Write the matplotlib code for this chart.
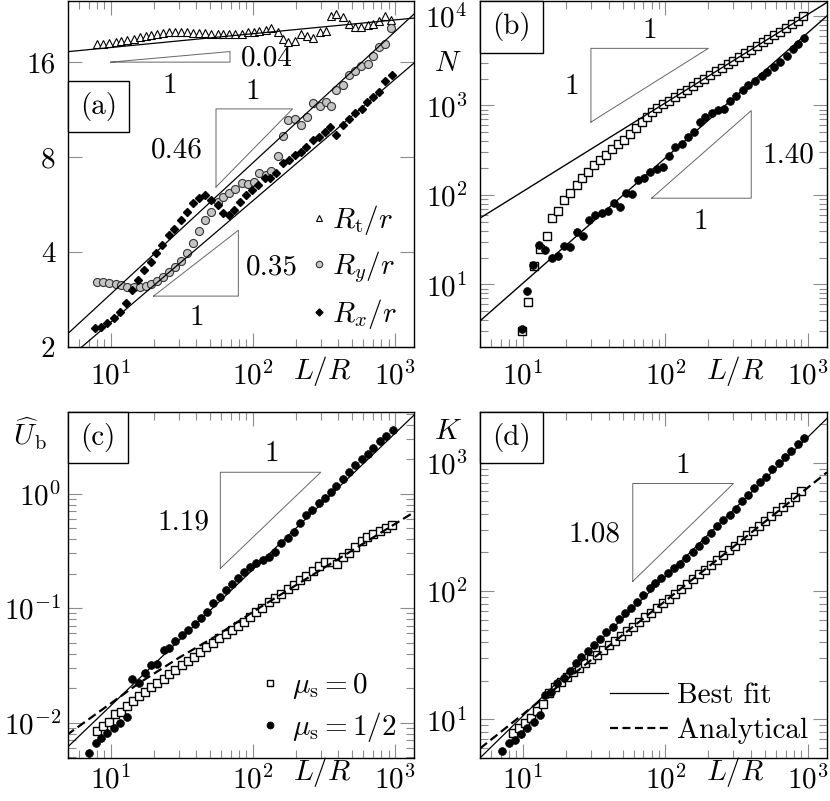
import numpy as np
import matplotlib
matplotlib.use("Agg")
import matplotlib.pyplot as plt
from matplotlib.ticker import (LogLocator, FixedLocator, FixedFormatter,
                               NullLocator, NullFormatter, LogFormatterMathtext)
from matplotlib.patches import Rectangle
from matplotlib.lines import Line2D

plt.rcParams['font.family'] = 'serif'
plt.rcParams['font.serif'] = ['cmr10']
plt.rcParams['mathtext.fontset'] = 'cm'
plt.rcParams['axes.formatter.use_mathtext'] = True
plt.rcParams['font.size'] = 21
plt.rcParams['axes.linewidth'] = 1.0

# ---- (a) radii ----
a_x = [7.96, 8.78, 9.73, 10.8, 11.8, 13.1, 14.5, 16.0, 17.7, 19.2, 21.1, 23.4, 25.8, 28.5, 31.4,
       34.4, 38.0, 41.9, 45.9, 50.7, 56.4, 61.9, 68.2, 75.2, 83.4, 91.9, 101, 111, 123, 134,
       150, 163, 178, 197, 219, 240, 266, 295, 325, 357, 387, 431, 473, 522, 575, 641, 696,
       774, 850, 937]
a_rt = [18.2, 18.3, 18.4, 18.5, 18.7, 18.8, 19.0, 19.2, 19.4, 19.5, 19.7, 19.8, 19.9, 19.9, 19.9,
        19.9, 19.8, 19.8, 19.8, 19.7, 19.7, 19.7, 19.6, 19.6, 19.7, 19.9, 20.0, 20.1, 20.3, 20.6,
        20.0, 19.0, 18.6, 18.7, 19.6, 19.3, 19.1, 20.0, 20.1, 22.4, 22.8, 22.2, 21.1, 20.7, 20.7,
        21.0, 21.2, 21.6, 22.4, 21.7]
a_ry = [3.22, 3.21, 3.18, 3.16, 3.14, 3.11, 3.09, 3.09, 3.12, 3.17, 3.24, 3.34, 3.45, 3.59, 3.75,
        3.97, 4.27, 4.66, 5.05, 5.37, 5.77, 5.99, 6.15, 6.33, 6.60, 6.58, 6.67, 7.14, 7.02, 7.22,
        8.09, 9.36, 10.5, 10.6, 10.1, 10.7, 11.9, 11.6, 12.0, 11.6, 13.1, 13.5, 14.6, 15.0, 15.5,
        15.8, 16.7, 17.9, 18.3, 20.5]
a_x_rx = [7.80, 8.59, 9.42, 10.5, 11.6, 12.7, 14.2, 15.6, 17.1, 19.1, 20.7, 23.1, 25.7, 27.9, 31.1,
          34.6, 37.6, 41.9, 46.1, 50.7, 56.4, 61.2, 68.2, 74.0, 81.2, 89.6, 98.2, 108, 121, 132,
          146, 163, 179, 197, 219, 238, 265, 292, 320, 347, 387, 431, 476, 522, 582, 631, 696,
          774, 849, 948]
a_rx = [2.29, 2.31, 2.39, 2.47, 2.59, 2.75, 3.03, 3.26, 3.51, 3.73, 3.96, 4.21, 4.53, 4.75, 5.05,
        5.37, 5.71, 5.92, 6.06, 5.84, 5.64, 5.30, 5.24, 5.43, 5.77, 6.06, 6.29, 6.52, 6.85, 6.85,
        7.10, 7.64, 7.83, 8.12, 8.32, 8.62, 9.06, 9.28, 9.62, 9.98, 9.39, 10.1, 10.6, 11.0, 11.4,
        12.0, 12.4, 12.9, 13.9, 14.6]
a_fit_pref = [16.1, 1.13, 0.988]
a_fit_exp = [0.0437, 0.416, 0.385]

# ---- (b) N ----
b_sq_x = [9.9, 10.9, 12.0, 13.2, 14.7, 16.1, 17.7, 19.5, 21.4, 23.8, 26.1, 28.7, 31.6, 34.7, 38.2,
          41.9, 46.2, 51.2, 56.4, 61.8, 68.1, 73.8, 80.0, 87.6, 96.5, 106, 117, 128, 141, 155,
          170, 187, 205, 226, 248, 273, 299, 330, 361, 398, 436, 481, 526, 580, 636, 701, 769,
          847, 927]
b_sq_y = [3.0, 6.4, 16, 25, 35, 55, 67, 88, 106, 129, 153, 179, 215, 245, 283, 324, 369, 416, 485,
          560, 652, 741, 850, 938, 1033, 1133, 1249, 1365, 1503, 1651, 1810, 1988, 2177, 2397,
          2628, 2890, 3162, 3488, 3811, 4200, 4599, 5068, 5538, 6096, 6675, 7360, 8070, 8873, 9900]
b_ci_x = [9.8, 10.7, 11.8, 13.0, 14.4, 15.9, 17.7, 19.5, 21.5, 23.8, 26.2, 29.2, 32.0, 35.7, 39.3,
          43.5, 48.0, 52.8, 58.5, 64.4, 71.0, 77.8, 86.7, 95.5, 106, 117, 130, 143, 158, 175, 189,
          211, 232, 257, 284, 313, 348, 381, 425, 473, 518, 577, 636, 709, 782, 856, 942]
b_ci_y = [3.16, 8.4, 16.7, 27.8, 24.5, 19.8, 21, 27.1, 26.2, 39, 35, 52.7, 60, 63.5, 67, 81, 74,
          106, 102, 147, 156, 181, 193, 206, 271, 344, 375, 444, 505, 652, 741, 820, 880, 918,
          1136, 1291, 1493, 1711, 1896, 2154, 2344, 2710, 3026, 3594, 4266, 4918, 5650]
b_fit_pref = [11.2, 0.411]
b_fit_exp = [0.99, 1.40]

# ---- (c) U_b ----
c_sq_x = [7.96, 8.78, 9.79, 10.7, 11.8, 13.0, 14.3, 15.8, 17.5, 19.2, 21.1, 23.6, 25.8, 28.5, 31.7,
          35.0, 38.4, 42.4, 47.1, 52.4, 57.7, 64.3, 70.9, 79.0, 86.6, 95.5, 105, 115, 129, 143,
          158, 176, 194, 213, 238, 265, 292, 320, 353, 391, 431, 476, 522, 582, 637, 703, 784,
          864, 948]
c_sq_y = [0.00848, 0.00937, 0.01004, 0.0118, 0.0124, 0.0139, 0.0155, 0.0170, 0.0186, 0.0203,
          0.0220, 0.0240, 0.0264, 0.0288, 0.0316, 0.0345, 0.0376, 0.0415, 0.0454, 0.0498,
          0.0543, 0.0593, 0.0643, 0.0700, 0.0759, 0.0839, 0.0917, 0.100, 0.112, 0.122,
          0.133, 0.146, 0.160, 0.176, 0.192, 0.211, 0.235, 0.255, 0.252, 0.242,
          0.280, 0.306, 0.340, 0.385, 0.420, 0.446, 0.476, 0.502, 0.531]
c_ci_x = [7.06, 7.83, 8.54, 9.48, 10.6, 11.6, 13.0, 14.2, 15.7, 17.3, 19.2, 21.1, 23.6, 25.8, 28.5,
          31.7, 35.0, 39.1, 42.8, 47.2, 52.4, 58.3, 64.3, 70.9, 78.6, 86.6, 95.5, 105, 117, 129,
          143, 158, 176, 194, 213, 238, 262, 290, 320, 353, 387, 431, 476, 522, 582, 641, 703,
          784, 864, 963]
c_ci_y = [0.00545, 0.00658, 0.00728, 0.00805, 0.00890, 0.00984, 0.0111, 0.0238, 0.0223, 0.0269,
          0.0318, 0.0324, 0.0430, 0.0445, 0.0515, 0.0581, 0.0643, 0.0721, 0.0813, 0.0917,
          0.110, 0.124, 0.144, 0.161, 0.182, 0.207, 0.229, 0.247, 0.263, 0.280,
          0.310, 0.367, 0.406, 0.464, 0.549, 0.649, 0.718, 0.821, 0.908, 1.04,
          1.17, 1.34, 1.55, 1.77, 2.00, 2.24, 2.53, 2.89, 3.18, 3.59]
c_fit = (0.000906, 1.19)     # best fit, mu_s = 1/2
# analytical curve for mu_s = 0
c_theory_x = [4.9, 15.8, 30.7, 53.5, 113, 1362]
c_theory_y = [0.00778, 0.0221, 0.0373, 0.0558, 0.102, 0.689]

# ---- (d) K ----
d_sq_x = [8.5, 9.37, 10.3, 11.4, 12.5, 13.8, 15.2, 16.8, 18.5, 20.4, 22.5, 24.8, 27.3, 30.1, 33.1,
          36.5, 40.2, 44.3, 48.8, 53.8, 59.3, 65.3, 72.0, 79.3, 87.4, 96.3, 106, 117, 129, 142,
          157, 173, 190, 210, 231, 255, 281, 309, 341, 376, 414, 456, 503, 554, 611, 673, 741,
          817, 900]
d_sq_y = [7.78, 8.5, 9.3, 10.3, 11.7, 13.2, 16.0, 17.8, 19.6, 21.5, 23.2, 25.2, 27.3, 29.6, 32.0,
          34.8, 37.8, 41.0, 44.6, 48.6, 52.8, 57.6, 62.5, 68.0, 74.0, 80.5, 87.5, 95.5, 104, 113,
          124, 135, 147, 160, 175, 191, 208, 226, 248, 272, 296, 323, 352, 384, 418, 456, 498,
          545, 600]
d_ci_x = [7.13, 7.98, 8.75, 9.75, 10.7, 11.9, 13.1, 14.4, 15.8, 17.4, 19.3, 21.3, 23.4, 25.7, 28.6,
          31.5, 34.9, 38.5, 42.8, 46.9, 51.8, 57.7, 63.5, 69.5, 77.5, 84.9, 93.6, 104, 115, 127,
          140, 156, 172, 188, 210, 231, 253, 282, 311, 347, 380, 418, 463, 511, 562, 623, 694,
          765, 851, 938]
d_ci_y = [5.65, 6.56, 6.89, 7.64, 8.51, 9.58, 10.8, 15.5, 16.4, 19.3, 21.1, 24.0, 27.4, 30.8, 34.4,
          38.0, 42.2, 47.8, 52.9, 60.4, 67.3, 73.6, 82.9, 93.6, 105, 115, 126, 138, 151, 163,
          181, 200, 223, 252, 284, 320, 361, 395, 437, 501, 565, 638, 705, 778, 887, 1000, 1114,
          1233, 1390, 1567]
d_fit = (0.870, 1.087)
d_theory = (1.43, 0.884)

X_LIM = (5, 1360)
x_line = np.array(X_LIM, dtype=float)
DASH = (4, 2)

fig = plt.figure(figsize=(8.3, 8.01), dpi=100)


def px_rect(l, t, r, b):
    return [l / 830, 1 - b / 801, (r - l) / 830, (b - t) / 801]


def setup(ax, top_row):
    ax.set_xscale('log')
    ax.set_xlim(*X_LIM)
    ax.xaxis.set_major_locator(FixedLocator([10, 100, 1000]))
    ax.xaxis.set_major_formatter(LogFormatterMathtext())
    ax.xaxis.set_minor_locator(LogLocator(base=10, subs=np.arange(2, 10), numticks=20))
    ax.xaxis.set_minor_formatter(NullFormatter())
    ax.tick_params(which='both', direction='in', top=True, right=True,
                   color='0.55', width=0.8)
    ax.tick_params(which='major', length=10)
    ax.tick_params(which='minor', length=6)
    ax.tick_params(axis='x', pad=10 if top_row else 5)
    ax.tick_params(axis='y', pad=9)
    yl = -0.092 if top_row else -0.064
    ax.text(0.735, yl, r'$L/R$', transform=ax.transAxes, ha='center', va='baseline')


def panel_label(ax, txt, y0, w, h):
    ax.add_patch(Rectangle((0, y0), w, h, transform=ax.transAxes, fc='white', ec='black',
                           lw=1.0, clip_on=False, zorder=6))
    ax.text(w / 2, y0 + h / 2, txt, transform=ax.transAxes, ha='center', va='center', zorder=7)


def slope_tri(ax, x0, x1, y0, k, upper):
    y1 = y0 * (x1 / x0) ** k
    if upper:
        xs, ys = [x0, x0, x1, x0], [y0, y1, y1, y0]
    else:
        xs, ys = [x0, x1, x1, x0], [y0, y0, y1, y0]
    ax.plot(xs, ys, color='0.4', lw=0.7, zorder=2)


sq_style = dict(ls='none', marker='s', ms=5.3, mfc='white', mec='black', mew=1.0)
ci_style = dict(ls='none', marker='o', ms=5.6, mfc='black', mec='black', mew=0.5)

# (a)
ax = fig.add_axes(px_rect(68, 1, 414, 347))
setup(ax, True)
ax.set_yscale('log', base=2)
ax.set_ylim(2, 25)
ax.yaxis.set_major_locator(FixedLocator([2, 4, 8, 16]))
ax.yaxis.set_major_formatter(FixedFormatter(['2', '4', '8', '16']))
ax.yaxis.set_minor_locator(NullLocator())
h_t, = ax.plot(a_x, a_rt, ls='none', marker='^', ms=5.8, mfc='white', mec='black', mew=0.8)
h_y, = ax.plot(a_x, a_ry, ls='none', marker='o', ms=5.8, mfc='#c4c4c4', mec='#333333', mew=0.8)
h_x, = ax.plot(a_x_rx, a_rx, ls='none', marker='D', ms=4.4, mfc='black', mec='black')
for A, k in zip(a_fit_pref, a_fit_exp):
    ax.plot(x_line, A * x_line ** k, color='black', lw=0.9, zorder=4)
slope_tri(ax, 10, 69, 16.0, 0.04, False)
slope_tri(ax, 55, 190, 6.43, 0.46, True)
slope_tri(ax, 20, 79, 2.90, 0.35, False)
ax.text(126, 16.5, '0.04', ha='center', va='center')
ax.text(26, 13.5, '1', ha='center', va='center')
ax.text(99, 12.9, '1', ha='center', va='center')
ax.text(29.3, 8.42, '0.46', ha='center', va='center')
ax.text(137, 3.59, '0.35', ha='center', va='center')
ax.text(40, 2.47, '1', ha='center', va='center')
ax.legend([h_t, h_y, h_x], [r'$R_\mathrm{t}/r$', r'$R_y/r$', r'$R_x/r$'],
          loc='lower right', bbox_to_anchor=(0.95, 0.045), frameon=False, borderaxespad=0,
          handlelength=0.4, handletextpad=0.25, labelspacing=0.42, borderpad=0, markerscale=0.8)
panel_label(ax, '(a)', 0.622, 0.176, 0.147)

# (b)
ax = fig.add_axes(px_rect(480, 1, 827, 347))
setup(ax, True)
ax.set_yscale('log')
ax.set_ylim(2, 14700)
ax.yaxis.set_major_locator(FixedLocator([10, 100, 1000, 10000]))
ax.yaxis.set_major_formatter(LogFormatterMathtext())
ax.yaxis.set_minor_locator(LogLocator(base=10, subs=np.arange(2, 10), numticks=20))
ax.yaxis.set_minor_formatter(NullFormatter())
ax.plot(b_sq_x, b_sq_y, **sq_style)
ax.plot(b_ci_x, b_ci_y, **ci_style)
for A, k in zip(b_fit_pref, b_fit_exp):
    ax.plot(x_line, A * x_line ** k, color='black', lw=1.0, zorder=4)
slope_tri(ax, 30, 200, 652, 1.0, True)
slope_tri(ax, 80, 400, 92, 1.40, False)
ax.text(78, 6800, '1', ha='center', va='center')
ax.text(22, 1600, '1', ha='center', va='center')
ax.text(728, 278, '1.40', ha='center', va='center')
ax.text(177, 50.5, '1', ha='center', va='center')
ax.text(-0.092, 0.818, r'$N$', transform=ax.transAxes, ha='center', va='center')
panel_label(ax, '(b)', 0.850, 0.182, 0.150)

# (c)
ax = fig.add_axes(px_rect(68, 411.7, 414, 758))
setup(ax, False)
ax.set_yscale('log')
ax.set_ylim(0.0049, 5.2)
ax.yaxis.set_major_locator(FixedLocator([0.01, 0.1, 1]))
ax.yaxis.set_major_formatter(LogFormatterMathtext())
ax.yaxis.set_minor_locator(LogLocator(base=10, subs=np.arange(2, 10), numticks=20))
ax.yaxis.set_minor_formatter(NullFormatter())
ax.tick_params(axis='y', pad=5)
h_sq, = ax.plot(c_sq_x, c_sq_y, **sq_style)
h_ci, = ax.plot(c_ci_x, c_ci_y, **ci_style)
ax.plot(x_line, c_fit[0] * x_line ** c_fit[1], color='black', lw=0.9, zorder=4)
ax.plot(c_theory_x, c_theory_y, color='black', lw=1.6, dashes=DASH, zorder=4)
slope_tri(ax, 59, 300, 0.222, 1.19, True)
ax.text(136, 2.24, '1', ha='center', va='center')
ax.text(32.4, 0.567, '1.19', ha='center', va='center')
ax.text(-0.11, 0.935, r'$\widehat{U}_\mathrm{b}$', transform=ax.transAxes,
        ha='center', va='center')
ax.legend([h_sq, h_ci], [r'$\mu_\mathrm{s}=0$', r'$\mu_\mathrm{s}=1/2$'],
          loc='lower right', bbox_to_anchor=(0.95, 0.04), frameon=False, borderaxespad=0,
          handlelength=0.5, handletextpad=0.5, labelspacing=0.3, borderpad=0, markerscale=0.9)
panel_label(ax, '(c)', 0.853, 0.173, 0.147)

# (d)
ax = fig.add_axes(px_rect(480, 411.7, 827, 758))
setup(ax, False)
ax.set_yscale('log')
ax.set_ylim(5, 2500)
ax.yaxis.set_major_locator(FixedLocator([10, 100, 1000]))
ax.yaxis.set_major_formatter(LogFormatterMathtext())
ax.yaxis.set_minor_locator(LogLocator(base=10, subs=np.arange(2, 10), numticks=20))
ax.yaxis.set_minor_formatter(NullFormatter())
ax.plot(d_sq_x, d_sq_y, **sq_style)
ax.plot(d_ci_x, d_ci_y, **ci_style)
ax.plot(x_line, d_fit[0] * x_line ** d_fit[1], color='black', lw=0.9, zorder=4)
ax.plot(x_line, d_theory[0] * x_line ** d_theory[1], color='black', lw=1.6,
        dashes=DASH, zorder=4)
slope_tri(ax, 59, 300, 119, 1.08, True)
ax.text(133, 940, '1', ha='center', va='center')
ax.text(31.8, 275, '1.08', ha='center', va='center')
ax.text(-0.092, 0.942, r'$K$', transform=ax.transAxes, ha='center', va='center')
h_fit = Line2D([], [], color='black', lw=0.9)
h_th = Line2D([], [], color='black', lw=1.6, dashes=(3.6, 2.0))
ax.legend([h_fit, h_th], ['Best fit', 'Analytical'],
          loc='lower right', bbox_to_anchor=(0.945, 0.04), frameon=False, borderaxespad=0,
          handlelength=2.0, handletextpad=0.3, labelspacing=0.3, borderpad=0)
panel_label(ax, '(d)', 0.852, 0.182, 0.148)

fig.savefig('out.png', dpi=100)
